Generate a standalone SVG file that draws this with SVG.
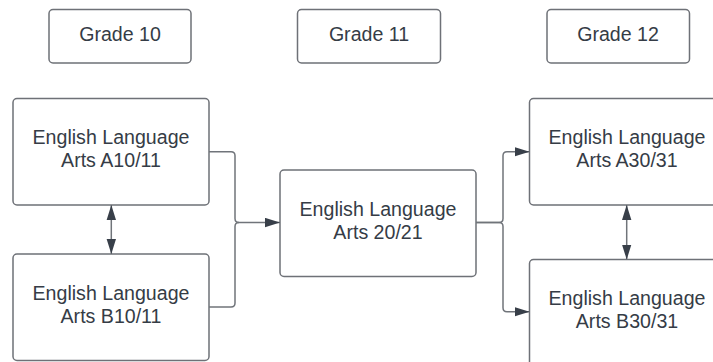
<svg xmlns="http://www.w3.org/2000/svg" width="713" height="362" viewBox="0 0 713 362">
<defs>
<style>
.box{fill:#ffffff;stroke:#6e7177;stroke-width:1.5}
.t{font-family:"Liberation Sans",Arial,sans-serif;font-size:19.6px;fill:#353c46;text-anchor:middle}
.c{fill:none;stroke:#70747a;stroke-width:1.5}
</style>
<marker id="ah" viewBox="0 0 15 10" refX="15" refY="5" markerWidth="15" markerHeight="10" markerUnits="userSpaceOnUse" orient="auto-start-reverse">
<path d="M0,0.3 L15,5 L0,9.7 Z" fill="#383f49"/>
</marker>
</defs>
<rect width="713" height="362" fill="#ffffff"/>
<g id="grade10"><rect class="box" x="49" y="9.5" width="142" height="53.5" rx="4"/><text class="t" x="120" y="41">Grade 10</text></g>
<g id="grade11"><rect class="box" x="297.5" y="9.5" width="143" height="53.5" rx="4"/><text class="t" x="369" y="41">Grade 11</text></g>
<g id="grade12"><rect class="box" x="547" y="9.5" width="142.5" height="53.5" rx="4"/><text class="t" x="618" y="41">Grade 12</text></g>
<g id="ela_a10"><rect class="box" x="13" y="98.5" width="196" height="106.5" rx="4"/><text class="t" x="111" y="144">English Language</text><text class="t" x="111" y="167">Arts A10/11</text></g>
<g id="ela_b10"><rect class="box" x="13" y="254" width="196" height="106.5" rx="4"/><text class="t" x="111" y="299.5">English Language</text><text class="t" x="111" y="323">Arts B10/11</text></g>
<g id="ela_20"><rect class="box" x="280" y="170" width="196" height="106.5" rx="4"/><text class="t" x="378" y="215.5">English Language</text><text class="t" x="378" y="239">Arts 20/21</text></g>
<g id="ela_a30"><rect class="box" x="529.5" y="98.5" width="196" height="106.5" rx="4"/><text class="t" x="627" y="144">English Language</text><text class="t" x="627" y="167">Arts A30/31</text></g>
<g id="ela_b30"><rect class="box" x="529.5" y="259.5" width="196" height="106.5" rx="4"/><text class="t" x="627" y="305">English Language</text><text class="t" x="627" y="328">Arts B30/31</text></g>
<g id="connectors">
<path class="c" d="M209,151.7 H231 Q235,151.7 235,155.7 V218.5 Q235,222.5 239,222.5 H280" marker-end="url(#ah)"/>
<path class="c" d="M209,307 H231 Q235,307 235,303 V226.5 Q235,222.5 239,222.5"/>
<path class="c" d="M476,222.5 H499 Q503,222.5 503,218.5 V155.7 Q503,151.7 507,151.7 H529.5" marker-end="url(#ah)"/>
<path class="c" d="M476,222.5 H499 Q503,222.5 503,226.5 V307.7 Q503,311.7 507,311.7 H529.5" marker-end="url(#ah)"/>
<path class="c" d="M111.3,205 V254" marker-start="url(#ah)" marker-end="url(#ah)"/>
<path class="c" d="M626.7,205 V259.5" marker-start="url(#ah)" marker-end="url(#ah)"/>
</g>
</svg>
